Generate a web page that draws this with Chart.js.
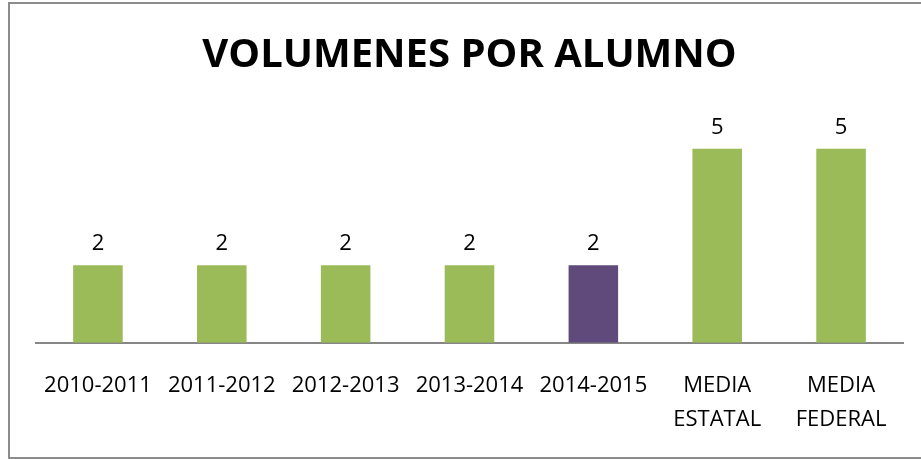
<!DOCTYPE html>
<html>
<head>
<meta charset="utf-8">
<script src="https://cdn.jsdelivr.net/npm/chart.js@4"></script>
<style>
  html, body { margin: 0; padding: 0; background: #fff; }
  #wrap { position: relative; width: 921px; height: 459px; overflow: hidden; }
  #frame { position: absolute; left: 8px; top: 2px; width: 940px; height: 453px; border: 2px solid #8c8c8c; box-sizing: content-box; }
  canvas { position: absolute; left: 0; top: 0; }
</style>
</head>
<body>
<div id="wrap">
  <div id="frame"></div>
  <canvas id="chart" width="921" height="459"></canvas>
</div>
<script>
// Volúmenes por alumno
const categories = ['2010-2011', '2011-2012', '2012-2013', '2013-2014', '2014-2015', ['MEDIA', 'ESTATAL'], ['MEDIA', 'FEDERAL']];
const volumes = [2, 2, 2, 2, 2, 5, 5];
const barColors = ['#9bbb59', '#9bbb59', '#9bbb59', '#9bbb59', '#604a7b', '#9bbb59', '#9bbb59'];

const FONT = "'Open Sans', 'Liberation Sans', sans-serif";

// value labels above each bar
const valueLabels = {
    id: 'valueLabels',
    afterDatasetsDraw(chart) {
        const ctx = chart.ctx;
        const meta = chart.getDatasetMeta(0);
        ctx.save();
        ctx.font = '22px ' + FONT;
        ctx.fillStyle = '#000';
        ctx.textAlign = 'center';
        ctx.textBaseline = 'bottom';
        meta.data.forEach((bar, i) => {
            ctx.fillText(String(volumes[i]), bar.x, bar.y - 10);
        });
        ctx.restore();
    }
};

new Chart(document.getElementById('chart').getContext('2d'), {
    type: 'bar',
    data: {
        labels: categories,
        datasets: [{
            data: volumes,
            backgroundColor: barColors,
            borderWidth: 0,
            categoryPercentage: 1,
            barPercentage: 0.4
        }]
    },
    options: {
        responsive: false,
        animation: false,
        layout: { padding: { left: 36, right: 18, top: 0, bottom: -4 } },
        plugins: {
            legend: { display: false },
            tooltip: { enabled: false },
            title: {
                display: true,
                text: 'VOLUMENES POR ALUMNO',
                color: '#000',
                font: { family: FONT, size: 40, weight: 'bold' },
                padding: { top: 32, bottom: 30 }
            }
        },
        scales: {
            y: { display: false, min: 0, max: 6 },
            x: {
                grid: { display: false, drawTicks: false },
                border: { color: '#868686', width: 2 },
                ticks: { color: '#000', font: { family: FONT, size: 22, lineHeight: 1.55 }, padding: 26, maxRotation: 0, autoSkip: false }
            }
        }
    },
    plugins: [valueLabels]
});
</script>
</body>
</html>
